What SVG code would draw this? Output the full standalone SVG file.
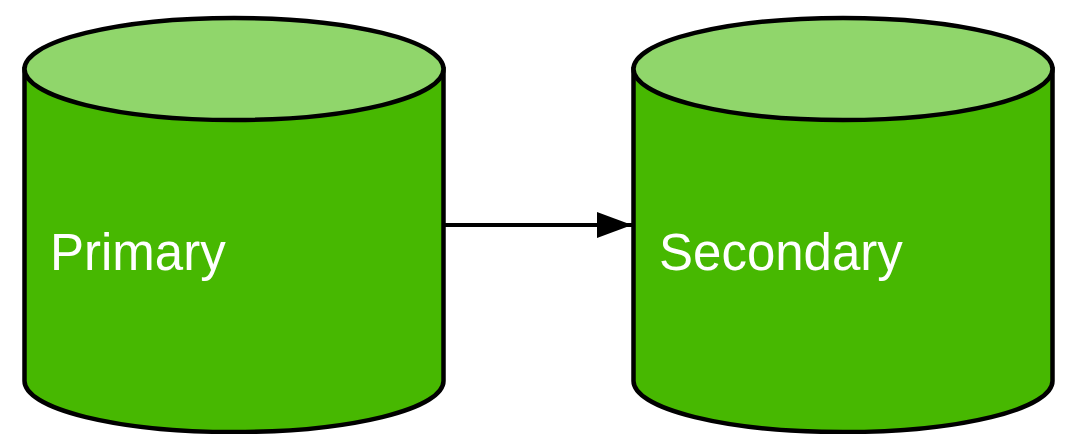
<svg xmlns="http://www.w3.org/2000/svg" width="1066" height="434" viewBox="0 0 1066 434">
<style>
.body{fill:#47b801;stroke:#000;stroke-width:4.5}
.top{fill:#90d66b;stroke:#000;stroke-width:4.5}
.lbl{font-family:"Liberation Sans",Arial,sans-serif;font-size:51px;fill:#fff}
.conn{stroke:#000;stroke-width:4;fill:none}
</style>
<defs>
<marker id="ah" markerUnits="userSpaceOnUse" markerWidth="36" markerHeight="26" refX="35" refY="13" orient="auto">
<path d="M0,0 L35,13 L0,26 Z" fill="#000"/>
</marker>
</defs>
<g id="primary">
<path class="body" d="M24.5,69 L24.5,381 A209.5,51 0 0 0 443.5,381 L443.5,69 Z"/>
<ellipse class="top" cx="234" cy="69" rx="209.5" ry="51"/>
<text class="lbl" x="50" y="270">Primary</text>
</g>
<g id="secondary">
<path class="body" d="M633.5,69 L633.5,381 A209.5,51 0 0 0 1052.5,381 L1052.5,69 Z"/>
<ellipse class="top" cx="843" cy="69" rx="209.5" ry="51"/>
<text class="lbl" x="659" y="270">Secondary</text>
</g>
<g id="connectors">
<line class="conn" x1="445" y1="225" x2="632" y2="225" marker-end="url(#ah)"/>
</g>
</svg>
